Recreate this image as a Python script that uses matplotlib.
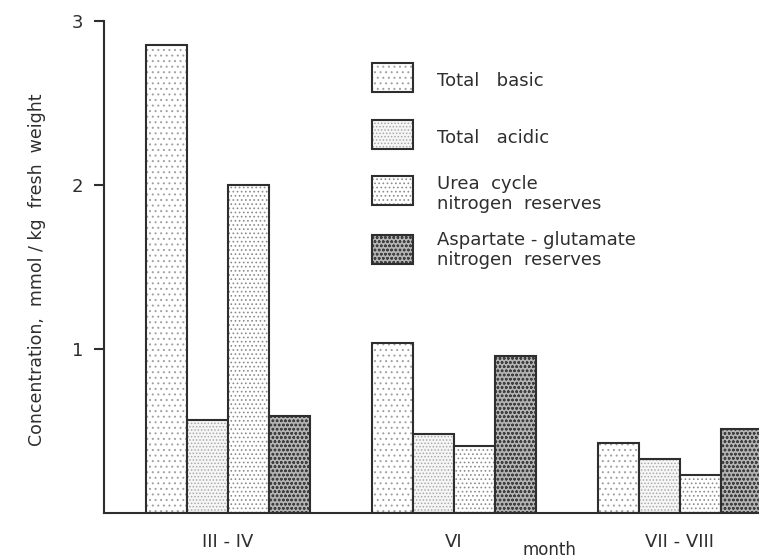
import matplotlib
matplotlib.use("Agg")
import matplotlib.pyplot as plt
from matplotlib.patches import Rectangle
import numpy as np

plt.rcParams['font.family'] = ['DejaVu Sans']
plt.rcParams['hatch.linewidth'] = 0.7

# nitrogen fractions, mmol/kg fresh weight
months = ["III - IV", "VI", "VII - VIII"]
total_basic = [2.85, 1.04, 0.43]
total_acidic = [0.57, 0.48, 0.33]
urea_cycle = [2.00, 0.41, 0.235]
asp_glu = [0.59, 0.96, 0.515]

series = [total_basic, total_acidic, urea_cycle, asp_glu]
labels = ["Total   basic", "Total   acidic",
          "Urea  cycle\nnitrogen  reserves",
          "Aspartate - glutamate\nnitrogen  reserves"]
# dot screens: (hatch, dot colour, background)
screens = [("...", "#a0a0a0", "white"),
           (".....", "#a8a8a8", "#f6f6f6"),
           ("....", "#8c8c8c", "white"),
           ("oooo", "#404040", "#b4b4b4")]

ink = "#2e2e2e"
W, H = 759, 559

fig = plt.figure(figsize=(W / 100, H / 100), dpi=100)
ax = fig.add_axes([104 / W, 45.7 / H, 655 / W, 492.6 / H])

x = np.arange(len(months))
width = 0.182
offsets = (np.arange(4) - 1.5) * width

for vals, off, (hatch, dot, bg) in zip(series, offsets, screens):
    ax.bar(x + off, vals, width, color=bg, edgecolor=dot, hatch=hatch, linewidth=0)
    ax.bar(x + off, vals, width, fill=False, edgecolor=ink, linewidth=1.5)

ax.set_xlim(-0.549, 2.35)
ax.set_ylim(0, 3)
for side in ("top", "right"):
    ax.spines[side].set_visible(False)
for side in ("left", "bottom"):
    ax.spines[side].set_color(ink)
    ax.spines[side].set_linewidth(1.5)

ax.set_yticks([1, 2, 3])
ax.set_yticklabels(["1", "2", "3"])
ax.tick_params(axis="y", length=7, width=1.5, color=ink, pad=8,
               labelsize=13, labelcolor=ink)
ax.set_xticks(x)
ax.set_xticklabels(months)
ax.tick_params(axis="x", length=0, pad=14, labelsize=13, labelcolor=ink)

fig.text(549 / W, 1 - 550 / H, "month", ha="center", va="center",
         fontsize=12, color=ink)
fig.text(37 / W, 1 - 270 / H, "Concentration,  mmol / kg  fresh  weight",
         rotation=90, ha="center", va="center", fontsize=12.5, color=ink)

# legend, drawn as boxes in figure coordinates
box_tops = [63, 120, 176, 235]
text_y = [81, 138, 194, 250]
for top, ty, lab, (hatch, dot, bg) in zip(box_tops, text_y, labels, screens):
    x0, y0 = 372 / W, 1 - (top + 29) / H
    fig.add_artist(Rectangle((x0, y0), 41 / W, 29 / H, transform=fig.transFigure,
                             facecolor=bg, edgecolor=dot, hatch=hatch, linewidth=0))
    fig.add_artist(Rectangle((x0, y0), 41 / W, 29 / H, transform=fig.transFigure,
                             fill=False, edgecolor=ink, linewidth=1.5))
    fig.text(437 / W, 1 - ty / H, lab, ha="left", va="center", fontsize=13,
             color=ink, linespacing=1.1)

fig.savefig("out.png", dpi=100)
